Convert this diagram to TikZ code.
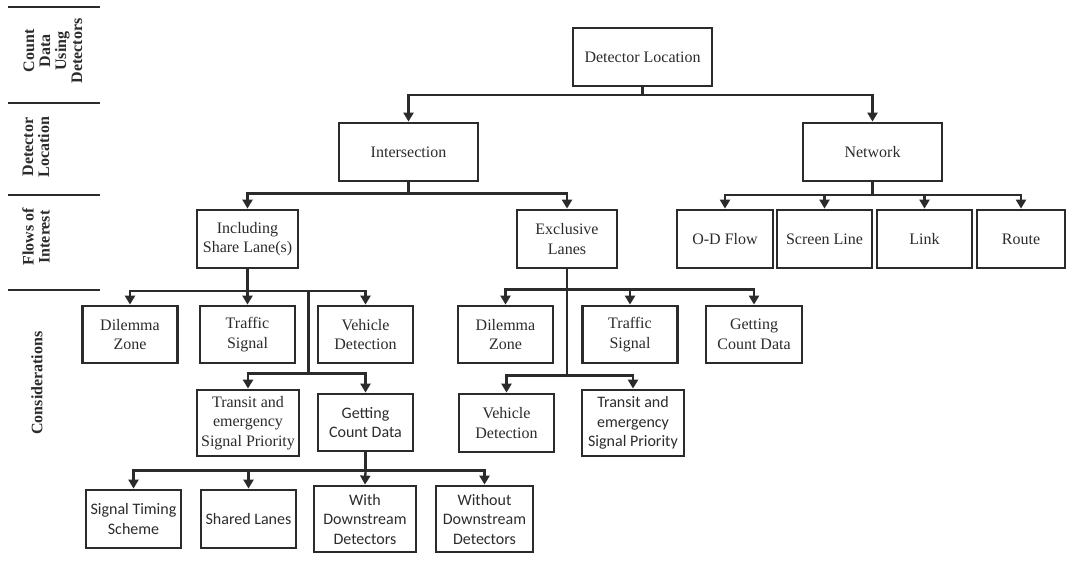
\documentclass[tikz,border=0pt]{standalone}
\usepackage{fontspec}
\setmainfont{Liberation Serif}
\newfontfamily\sansfont{Carlito}
\usetikzlibrary{arrows.meta}
\definecolor{ink}{HTML}{2B2B2B}
\begin{document}
\begin{tikzpicture}[x=1pt,y=-1pt,
  box/.style={draw=ink, line width=2.8pt, text=ink, align=center, inner sep=1pt,
              minimum width=95pt, minimum height=58pt,
              font=\fontsize{16}{19.5}\selectfont},
  sbox/.style={box, font=\sansfont\fontsize{16}{19.5}\selectfont},
  wire/.style={draw=ink, line width=2.3pt},
  arr/.style={wire, -{Triangle[length=9pt,width=10pt]}},
  rulebar/.style={draw=ink, line width=2.3pt},
  band/.style={text=ink, rotate=90, align=center,
               font=\bfseries\fontsize{16}{16}\selectfont}]

\useasboundingbox (0,0) rectangle (1067,565);

% ---- level bands on the left
\draw[rulebar] (8,7) -- (100,7);
\draw[rulebar] (8,103) -- (100,103);
\draw[rulebar] (8,195) -- (100,195);
\draw[rulebar] (8,290) -- (100,290);
\node[band] (bandA) at (53,51) {Count\\Data\\Using\\Detectors};
\node[band] (bandB) at (36,147) {Detector\\Location};
\node[band] (bandC) at (36,237) {Flows of\\Interest};
\node[band] (bandD) at (37,383) {Considerations};

% ---- boxes
\node[box, minimum width=139pt] (top) at (642.5,57) {Detector Location};
\node[box, minimum width=139pt] (inter) at (408.5,152) {Intersection};
\node[box, minimum width=139pt] (net) at (872.5,152) {Network};

\node[box, minimum width=101pt] (incl) at (247.5,239) {Including\\Share Lane(s)};
\node[box, minimum width=100pt] (excl) at (567,239) {Exclusive\\Lanes};
\node[box, minimum width=96pt] (od) at (725,239) {O-D Flow};
\node[box] (screen) at (824.5,239) {Screen Line};
\node[box] (link) at (924.5,239) {Link};
\node[box, minimum width=88pt] (route) at (1021,239) {Route};

\node[box, minimum height=57pt] (dz1) at (130,334.5) {Dilemma\\Zone};
\node[box, minimum height=57pt] (ts1) at (247.5,334.5) {Traffic\\Signal};
\node[box, minimum height=57pt] (vd1) at (365.5,334.5) {Vehicle\\Detection};

\node[box, minimum height=57pt] (dz2) at (505.5,334.5) {Dilemma\\Zone};
\node[box, minimum height=57pt] (ts2) at (630,334.5) {Traffic\\Signal};
\node[box, minimum height=57pt, minimum width=96pt] (gc2) at (754,334.5) {Getting\\Count Data};

\node[box, minimum width=102pt, minimum height=66pt] (tr1) at (248,423) {Transit and\\emergency\\Signal Priority};
\node[sbox, minimum height=57pt] (gc1) at (365.5,422.5) {Getting\\Count Data};
\node[box] (vd2) at (506.5,423) {Vehicle\\Detection};
\node[sbox, minimum width=102pt, minimum height=66pt] (tr2) at (633,423) {Transit and\\emergency\\Signal Priority};

\node[sbox] (sts) at (133.5,519) {Signal Timing\\Scheme};
\node[sbox] (sl) at (248.5,519) {Shared Lanes};
\node[sbox, minimum width=102pt, minimum height=66pt] (wd) at (365,519) {With\\Downstream\\Detectors};
\node[sbox, minimum width=97pt, minimum height=66pt] (wod) at (484.5,519) {Without\\Downstream\\Detectors};

% ---- bus junctions
\coordinate (j1) at (642.5,95);
\coordinate (j2) at (408.5,193.5);
\coordinate (j3) at (872.5,195);
\coordinate (j4) at (247.5,291);
\coordinate (k1) at (308.5,291);
\coordinate (k1b) at (308.5,373.5);
\coordinate (j5) at (567,289.5);
\coordinate (k2) at (567,375.5);
\coordinate (j6) at (365.5,470.5);

% ---- connectors
\draw[wire] (top.south) -- (j1);
\draw[arr] (j1) -| (inter.north);
\draw[arr] (j1) -| (net.north);

\draw[wire] (inter.south) -- (j2);
\draw[arr] (j2) -| (incl.north);
\draw[arr] (j2) -| (excl.north);

\draw[wire] (net.south) -- (j3);
\draw[arr] (j3) -| (od.north);
\draw[arr] (j3) -| (screen.north);
\draw[arr] (j3) -| (link.north);
\draw[arr] (j3) -| (route.north);

\draw[wire] (incl.south) -- (j4);
\draw[arr] (j4) -| (dz1.north);
\draw[arr] (j4) -- (ts1.north);
\draw[arr] (j4) -| (vd1.north);
\draw[wire] (k1) -- (k1b);
\draw[arr] (k1b) -| (tr1.north);
\draw[arr] (k1b) -| (gc1.north);

\draw[wire] (excl.south) -- (k2);
\draw[arr] (j5) -| (dz2.north);
\draw[arr] (j5) -| (ts2.north);
\draw[arr] (j5) -| (gc2.north);
\draw[arr] (k2) -| (vd2.north);
\draw[arr] (k2) -| (tr2.north);

\draw[wire] (gc1.south) -- (j6);
\draw[arr] (j6) -| (sts.north);
\draw[arr] (j6) -| (sl.north);
\draw[arr] (j6) -- (wd.north);
\draw[arr] (j6) -| (wod.north);
\end{tikzpicture}
\end{document}
